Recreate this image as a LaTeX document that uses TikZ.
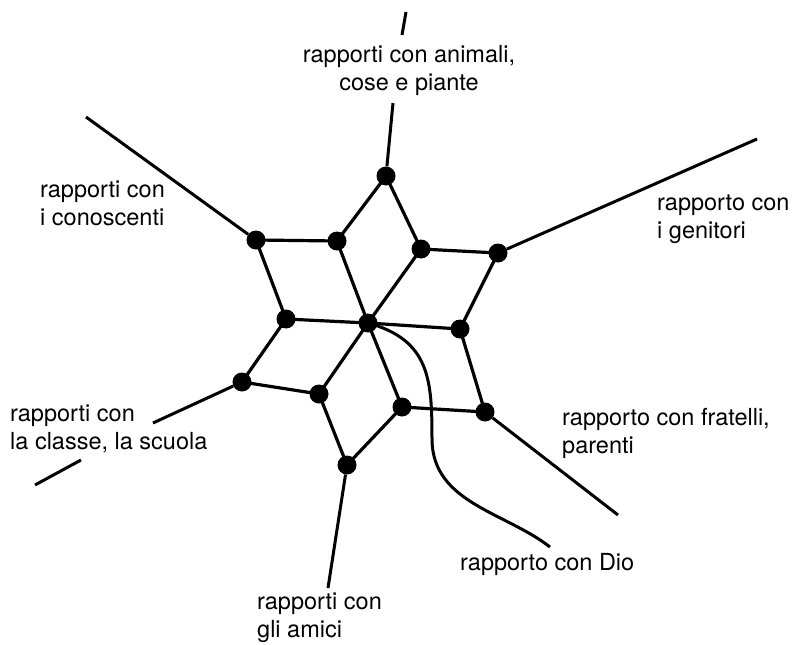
\documentclass[tikz,border=0pt]{standalone}
\usepackage{fontspec}
\setmainfont{TeX Gyre Heros}
\begin{document}
\begin{tikzpicture}[x=1pt,y=-1pt,
  dot/.style={circle,fill=black,inner sep=0pt,minimum size=19pt},
  edge/.style={line width=3.2pt},
  ray/.style={line width=3pt},
  lbl/.style={inner sep=0pt,font=\fontsize{23.5}{27.5}\selectfont}]
\useasboundingbox (0,0) rectangle (796,645);
% dots
\node[dot] (T)   at (386,176) {};
\node[dot] (ULo) at (256,240) {};
\node[dot] (ULi) at (337,241) {};
\node[dot] (URi) at (421,249) {};
\node[dot] (URo) at (498,253) {};
\node[dot] (Lm)  at (286,319) {};
\node[dot] (C)   at (368,323) {};
\node[dot] (Rm)  at (460,329) {};
\node[dot] (LLo) at (242,382) {};
\node[dot] (LLi) at (319,394) {};
\node[dot] (LRi) at (402,407) {};
\node[dot] (LRo) at (485,412) {};
\node[dot] (B)   at (347,465) {};
% ray ends
\coordinate (eT) at (393,103);
\coordinate (eT1) at (402,35);
\coordinate (eT2) at (406,12);
\coordinate (eUL) at (86,117);
\coordinate (eUR) at (757,139);
\coordinate (eLL) at (153,423);
\coordinate (eLL1) at (81,460);
\coordinate (eLL2) at (35,485);
\coordinate (eLR) at (618,515);
\coordinate (eB) at (328,588);
\coordinate (eD) at (550,547);
% edges
\draw[edge] (T.center) -- (ULi.center) -- (C.center) -- (URi.center) -- cycle;
\draw[edge] (ULo.center) -- (ULi.center);
\draw[edge] (ULo.center) -- (Lm.center) -- (C.center);
\draw[edge] (URi.center) -- (URo.center) -- (Rm.center) -- (C.center);
\draw[edge] (Lm.center) -- (LLo.center) -- (LLi.center) -- (C.center);
\draw[edge] (LLi.center) -- (B.center) -- (LRi.center) -- (C.center);
\draw[edge] (LRi.center) -- (LRo.center) -- (Rm.center);
% rays
\draw[ray] (T) -- (eT);
\draw[ray] (eT1) -- (eT2);
\draw[ray] (ULo) -- (eUL);
\draw[ray] (URo) -- (eUR);
\draw[ray] (LLo) -- (eLL);
\draw[ray] (eLL1) -- (eLL2);
\draw[ray] (LRo) -- (eLR);
\draw[ray] (B) -- (eB);
\draw[ray] (C.center) .. controls (430,340) and (432,380) .. (432,440)
  .. controls (433,503) and (505,512) .. (eD);
% labels (base = baseline of the last line)
\node[lbl,align=center,anchor=base] (lT) at (409,90) {rapporti con animali,\\cose e piante};
\node[lbl,align=left,anchor=base west] (lUL) at (40,225) {rapporti con\\i conoscenti};
\node[lbl,align=left,anchor=base west] (lUR) at (657,238) {rapporto con\\i genitori};
\node[lbl,align=left,anchor=base west] (lLL) at (10,449) {rapporti con\\la classe, la scuola};
\node[lbl,align=left,anchor=base west] (lLR) at (562,453) {rapporto con fratelli,\\parenti};
\node[lbl,anchor=base west] (lD) at (460,570) {rapporto con Dio};
\node[lbl,align=left,anchor=base west] (lB) at (257,637) {rapporti con\\gli amici};
\end{tikzpicture}
\end{document}
